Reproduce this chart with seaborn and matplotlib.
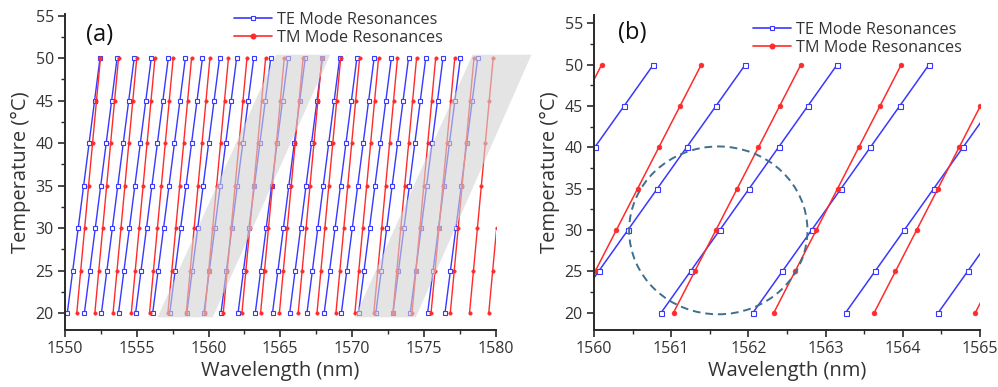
import matplotlib
matplotlib.use("Agg")
import matplotlib.pyplot as plt
import seaborn as sns
import pandas as pd
from matplotlib.lines import Line2D
from matplotlib.patches import Ellipse, Polygon
from matplotlib.ticker import MultipleLocator

# ---------------- data ----------------
temperatures = [20, 25, 30, 35, 40, 45, 50]

# TE mode resonance wavelengths (nm) at each temperature, one entry per mode order
te_20 = [1550.16, 1551.35, 1552.54, 1553.73, 1554.92, 1556.11, 1557.30, 1558.49, 1559.68, 1560.87, 1562.06, 1563.26,
         1564.46, 1565.66, 1566.86, 1568.06, 1569.26, 1570.46, 1571.66, 1572.86, 1574.06, 1575.27, 1576.48]
te_25 = [1550.54, 1551.73, 1552.92, 1554.11, 1555.30, 1556.49, 1557.68, 1558.87, 1560.06, 1561.25, 1562.44, 1563.64,
         1564.84, 1566.04, 1567.24, 1568.44, 1569.64, 1570.84, 1572.04, 1573.24, 1574.44, 1575.65, 1576.86]
te_30 = [1550.92, 1552.11, 1553.30, 1554.49, 1555.68, 1556.87, 1558.06, 1559.25, 1560.44, 1561.63, 1562.82, 1564.02,
         1565.22, 1566.42, 1567.62, 1568.82, 1570.02, 1571.22, 1572.42, 1573.62, 1574.82, 1576.03, 1577.24]
te_35 = [1551.30, 1552.49, 1553.68, 1554.87, 1556.06, 1557.25, 1558.44, 1559.63, 1560.82, 1562.01, 1563.20, 1564.40,
         1565.60, 1566.80, 1568.00, 1569.20, 1570.40, 1571.60, 1572.80, 1574.00, 1575.20, 1576.41, 1577.62]
te_40 = [1551.68, 1552.87, 1554.06, 1555.25, 1556.44, 1557.63, 1558.82, 1560.01, 1561.20, 1562.39, 1563.58, 1564.78,
         1565.98, 1567.18, 1568.38, 1569.58, 1570.78, 1571.98, 1573.18, 1574.38, 1575.58, 1576.79, 1578.00]
te_45 = [1552.06, 1553.25, 1554.44, 1555.63, 1556.82, 1558.01, 1559.20, 1560.39, 1561.58, 1562.77, 1563.96, 1565.16,
         1566.36, 1567.56, 1568.76, 1569.96, 1571.16, 1572.36, 1573.56, 1574.76, 1575.96, 1577.17, 1578.38]
te_50 = [1552.44, 1553.63, 1554.82, 1556.01, 1557.20, 1558.39, 1559.58, 1560.77, 1561.96, 1563.15, 1564.34, 1565.54,
         1566.74, 1567.94, 1569.14, 1570.34, 1571.54, 1572.74, 1573.94, 1575.14, 1576.34, 1577.55, 1578.76]

# TM mode resonance wavelengths (nm)
tm_20 = [1550.82, 1552.08, 1553.35, 1554.62, 1555.89, 1557.17, 1558.45, 1559.74, 1561.03, 1562.33, 1563.63, 1564.94,
         1566.25, 1567.56, 1568.88, 1570.20, 1571.52, 1572.85, 1574.18, 1575.51, 1576.85, 1578.19, 1579.53]
tm_25 = [1551.095, 1552.355, 1553.625, 1554.895, 1556.165, 1557.445, 1558.725, 1560.015, 1561.305, 1562.605, 1563.905,
         1565.215, 1566.525, 1567.835, 1569.155, 1570.475, 1571.795, 1573.125, 1574.455, 1575.785, 1577.125, 1578.465,
         1579.805]
tm_30 = [1551.37, 1552.63, 1553.90, 1555.17, 1556.44, 1557.72, 1559.00, 1560.29, 1561.58, 1562.88, 1564.18, 1565.49,
         1566.80, 1568.11, 1569.43, 1570.75, 1572.07, 1573.40, 1574.73, 1576.06, 1577.40, 1578.74, 1580.08]
tm_35 = [1551.645, 1552.905, 1554.175, 1555.445, 1556.715, 1557.995, 1559.275, 1560.565, 1561.855, 1563.155, 1564.455,
         1565.765, 1567.075, 1568.385, 1569.705, 1571.025, 1572.345, 1573.675, 1575.005, 1576.335, 1577.675, 1579.015,
         1580.355]
tm_40 = [1551.92, 1553.18, 1554.45, 1555.72, 1556.99, 1558.27, 1559.55, 1560.84, 1562.13, 1563.43, 1564.73, 1566.04,
         1567.35, 1568.66, 1569.98, 1571.30, 1572.62, 1573.95, 1575.28, 1576.61, 1577.95, 1579.29, 1580.63]
tm_45 = [1552.195, 1553.455, 1554.725, 1555.995, 1557.265, 1558.545, 1559.825, 1561.115, 1562.405, 1563.705, 1565.005,
         1566.315, 1567.625, 1568.935, 1570.255, 1571.575, 1572.895, 1574.225, 1575.555, 1576.885, 1578.225, 1579.565,
         1580.905]
tm_50 = [1552.47, 1553.73, 1555.00, 1556.27, 1557.54, 1558.82, 1560.10, 1561.39, 1562.68, 1563.98, 1565.28, 1566.59,
         1567.90, 1569.21, 1570.53, 1571.85, 1573.17, 1574.50, 1575.83, 1577.16, 1578.50, 1579.84, 1581.18]

# grey crossing bands in panel (a): corner wavelengths and temperatures
band1_x = [1556.45, 1560.30, 1568.48, 1564.70]
band2_x = [1570.20, 1574.45, 1582.50, 1578.40]
band_y = [19.5, 19.5, 50.4, 50.4]

# dashed circle in panel (b)
circle_center = (1561.61, 29.95)
circle_size = (2.31, 20.3)

te_label = "TE Mode Resonances"
tm_label = "TM Mode Resonances"

# ---------------- build tables ----------------
te_rows = [te_20, te_25, te_30, te_35, te_40, te_45, te_50]
tm_rows = [tm_20, tm_25, tm_30, tm_35, tm_40, tm_45, tm_50]


def long_frame(rows):
    recs = []
    for t, row in zip(temperatures, rows):
        for k, w in enumerate(row):
            recs.append({"order": k, "temperature": t, "wavelength": w})
    return pd.DataFrame(recs)


te_df = long_frame(te_rows)
tm_df = long_frame(tm_rows)

# ---------------- style ----------------
sns.set_style("ticks")
plt.rcParams["font.family"] = ["Open Sans", "DejaVu Sans"]
TE_C = "#3838ff"
TM_C = "#ff2b2b"
TXT = "#333333"

fig = plt.figure(figsize=(9.98, 3.87), dpi=100)
ax_a = fig.add_axes([65 / 998, 1 - 330 / 387, 430.5 / 998, 316 / 387])
ax_b = fig.add_axes([594 / 998, 1 - 330 / 387, 386 / 998, 315 / 387])


def draw(ax, lw, ms_te, ms_tm):
    sns.lineplot(data=te_df, x="wavelength", y="temperature", units="order", estimator=None, sort=False,
                 color=TE_C, lw=lw, marker="s", ms=ms_te, mfc="white", mec=TE_C, mew=0.8,
                 ax=ax, legend=False, zorder=2)
    sns.lineplot(data=tm_df, x="wavelength", y="temperature", units="order", estimator=None, sort=False,
                 color=TM_C, lw=lw, marker="o", ms=ms_tm, mfc=TM_C, mec=TM_C, mew=0.5,
                 ax=ax, legend=False, zorder=2)


draw(ax_a, 1.0, 2.6, 2.4)
draw(ax_b, 1.1, 3.6, 3.4)

for xs in (band1_x, band2_x):
    poly = Polygon(list(zip(xs, band_y)), closed=True, facecolor="#d2d2d2", edgecolor="none",
                   alpha=0.6, zorder=3, clip_on=False, transform=ax_a.transData)
    ax_a.add_patch(poly)

ax_b.add_patch(Ellipse(circle_center, circle_size[0], circle_size[1], fill=False, edgecolor="#3f6f8e",
                       lw=1.4, ls=(0, (4, 2.5)), zorder=4))

ax_a.set_xlim(1550, 1580)
ax_a.set_ylim(18, 55.2)
ax_b.set_xlim(1560, 1565)
ax_b.set_ylim(17.9, 56)

ax_a.xaxis.set_major_locator(MultipleLocator(5))
ax_a.xaxis.set_minor_locator(MultipleLocator(2.5))
ax_b.xaxis.set_major_locator(MultipleLocator(1))
ax_b.xaxis.set_minor_locator(MultipleLocator(0.5))

for ax in (ax_a, ax_b):
    ax.yaxis.set_major_locator(MultipleLocator(5))
    ax.yaxis.set_minor_locator(MultipleLocator(2.5))
    ax.set_facecolor("none")
    sns.despine(ax=ax)
    for s in ("left", "bottom"):
        ax.spines[s].set_linewidth(1.4)
        ax.spines[s].set_color("#2a2a2a")
    ax.tick_params(which="major", direction="out", length=5, width=1.2, color="#2a2a2a",
                   labelsize=11.5, labelcolor=TXT, pad=3)
    ax.tick_params(which="minor", direction="out", length=3, width=1.0, color="#2a2a2a")
    ax.set_xlabel("Wavelength (nm)", fontsize=14.5, color=TXT, labelpad=3)
    ax.set_ylabel("Temperature (\u00b0C)", fontsize=14.5, color=TXT, labelpad=3)

handles = [
    Line2D([], [], color=TE_C, lw=1.2, marker="s", ms=3.5, mfc="white", mec=TE_C, mew=0.8),
    Line2D([], [], color=TM_C, lw=1.2, marker="o", ms=3.3, mfc=TM_C, mec=TM_C),
]
fig.legend(handles, [te_label, tm_label], loc="upper left", bbox_to_anchor=(226 / 998, 1 - 4 / 387),
           frameon=False, fontsize=11.7, handlelength=2.3, handletextpad=0.35, labelspacing=0.1,
           borderpad=0, labelcolor=TXT)
fig.legend(handles, [te_label, tm_label], loc="upper left", bbox_to_anchor=(745 / 998, 1 - 14 / 387),
           frameon=False, fontsize=11.7, handlelength=2.3, handletextpad=0.35, labelspacing=0.1,
           borderpad=0, labelcolor=TXT)

fig.text(86 / 998, 1 - 35 / 387, "(a)", fontsize=17, color="#111111", va="center", ha="left")
fig.text(618 / 998, 1 - 33 / 387, "(b)", fontsize=17, color="#111111", va="center", ha="left")

fig.savefig("out.png", dpi=100)
